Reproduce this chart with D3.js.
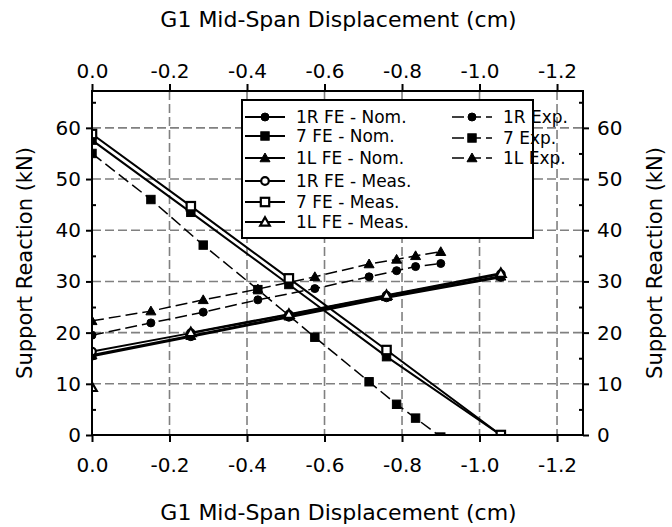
<!DOCTYPE html>
<html><head><meta charset="utf-8">
<script src="https://cdn.jsdelivr.net/npm/d3@7"></script>
<style>body{margin:0;background:#fff} text{font-family:"DejaVu Sans",sans-serif;fill:#000}</style>
</head><body><svg id="c" width="672" height="527"></svg>
<script>
// ---- data ----
const feX = [0, -0.255, -0.508, -0.76, -1.055];
const fe1RNom = [15.4, 19.2, 23.0, 26.8, 30.8];
const fe7Nom = [57.6, 43.5, 29.4, 15.3, 0];
const fe1LNom = [15.6, 19.4, 23.2, 27.0, 31.0];
const fe1RMeas = [16.3, 19.9, 23.5, 27.2, 31.4];
const fe7Meas = [58.8, 44.7, 30.6, 16.6, 0];
const meas1LX = [0, null, -0.255, -0.508, -0.76, -1.055];
const fe1LMeas = [9.3, null, 20.0, 23.6, 27.3, 31.6];
const expX = [0, -0.152, -0.287, -0.428, -0.575, -0.715, -0.786, -0.835, -0.90];
const exp1R = [19.5, 21.9, 24.0, 26.4, 28.6, 30.9, 32.1, 32.9, 33.5];
const exp7 = [55.0, 46.0, 37.1, 28.4, 19.1, 10.4, 6.0, 3.3, -0.4];
const exp1L = [22.3, 24.2, 26.4, 28.5, 30.9, 33.4, 34.3, 35.0, 35.8];
const xTicks = [0, -0.2, -0.4, -0.6, -0.8, -1.0, -1.2];
const yTicks = [0, 10, 20, 30, 40, 50, 60];
const yMinor = [5, 15, 25, 35, 45, 55, 65];
const xTitle = "G1 Mid-Span Displacement (cm)";
const yTitle = "Support Reaction (kN)";

const series = [
  {name: "1R FE - Nom.", x: feX, y: fe1RNom, m: "circle", open: false, dash: false, col: 0, row: 0},
  {name: "7 FE - Nom.", x: feX, y: fe7Nom, m: "square", open: false, dash: false, col: 0, row: 1},
  {name: "1L FE - Nom.", x: feX, y: fe1LNom, m: "triangle", open: false, dash: false, col: 0, row: 2},
  {name: "1R FE - Meas.", x: feX, y: fe1RMeas, m: "circle", open: true, dash: false, col: 0, row: 3},
  {name: "7 FE - Meas.", x: feX, y: fe7Meas, m: "square", open: true, dash: false, col: 0, row: 4},
  {name: "1L FE - Meas.", x: meas1LX, y: fe1LMeas, m: "triangle", open: true, dash: false, col: 0, row: 5},
  {name: "1R Exp.", x: expX, y: exp1R, m: "circle", open: false, dash: true, col: 1, row: 0},
  {name: "7 Exp.", x: expX, y: exp7, m: "square", open: false, dash: true, col: 1, row: 1},
  {name: "1L Exp.", x: expX, y: exp1L, m: "triangle", open: false, dash: true, col: 1, row: 2}
];

// ---- layout ----
const L = 92, R = 583, T = 91, B = 435;
const svg = d3.select("#c");
const x = d3.scaleLinear().domain([0, -1.267]).range([L, R]);
const y = d3.scaleLinear().domain([0, 67.2]).range([B, T]);
const fmt = d => d.toFixed(1);

svg.append("defs").append("clipPath").attr("id", "clip")
  .append("rect").attr("x", L).attr("y", T).attr("width", R - L).attr("height", B - T);

// grid
const grid = svg.append("g").attr("stroke", "#808080").attr("stroke-width", 1.6).attr("stroke-dasharray", "9,4");
grid.selectAll(".gx").data(xTicks.filter(d => d !== 0)).join("line")
  .attr("x1", d => x(d)).attr("x2", d => x(d)).attr("y1", T).attr("y2", B);
grid.selectAll(".gy").data(yTicks.filter(d => d !== 0)).join("line")
  .attr("x1", L).attr("x2", R).attr("y1", d => y(d)).attr("y2", d => y(d));

function marker(g, type, open, cx, cy) {
  let el;
  if (type === "circle") {
    el = g.append("circle").attr("cx", cx).attr("cy", cy).attr("r", open ? 3.8 : 4);
  } else if (type === "square") {
    const h = open ? 4.2 : 4.2;
    el = g.append("rect").attr("x", cx - h).attr("y", cy - h).attr("width", 2 * h).attr("height", 2 * h);
  } else {
    const h = open ? 4.8 : 5;
    el = g.append("path").attr("d", `M${cx},${cy - h}L${cx + h},${cy + h * 0.75}L${cx - h},${cy + h * 0.75}Z`);
  }
  el.attr("fill", open ? "#fff" : "#000").attr("stroke", "#000").attr("stroke-width", open ? 2.2 : 1);
}

const plot = svg.append("g").attr("clip-path", "url(#clip)");
const line = d3.line().defined(d => d[1] !== null).x(d => x(d[0])).y(d => y(d[1]));
series.forEach(s => {
  const pts = s.x.map((xv, i) => [xv, s.y[i]]);
  plot.append("path").datum(pts).attr("d", line).attr("fill", "none").attr("stroke", "#000")
    .attr("stroke-width", s.dash ? 1.5 : 2).attr("stroke-dasharray", s.dash ? "12,5" : null);
});
series.forEach(s => {
  const g = plot.append("g");
  s.x.forEach((xv, i) => { if (s.y[i] !== null) marker(g, s.m, s.open, x(xv), y(s.y[i])); });
});

// axes
const axStyle = g => {
  g.selectAll(".domain").remove();
  g.selectAll("line").attr("stroke", "#000").attr("stroke-width", 2);
  g.selectAll("text").style("font-family", '"DejaVu Sans",sans-serif').style("font-size", "20px").attr("fill", "#000");
};
svg.append("g").attr("transform", `translate(0,${B})`)
  .call(d3.axisBottom(x).tickValues(xTicks).tickFormat(fmt).tickSize(7).tickPadding(16)).call(axStyle);
svg.append("g").attr("transform", `translate(0,${T})`)
  .call(d3.axisTop(x).tickValues(xTicks).tickFormat(fmt).tickSize(7).tickPadding(6)).call(axStyle);
svg.append("g").attr("transform", `translate(${L},0)`)
  .call(d3.axisLeft(y).tickValues(yTicks).tickSize(6).tickPadding(5)).call(axStyle);
svg.append("g").attr("transform", `translate(${R},0)`)
  .call(d3.axisRight(y).tickValues(yTicks).tickSize(6).tickPadding(8)).call(axStyle);
svg.append("g").attr("transform", `translate(${L},0)`)
  .call(d3.axisRight(y).tickValues(yMinor).tickSize(4).tickFormat("")).call(axStyle);
svg.append("g").attr("transform", `translate(${R},0)`)
  .call(d3.axisLeft(y).tickValues(yMinor).tickSize(4).tickFormat("")).call(axStyle);
// frame
svg.append("rect").attr("x", L).attr("y", T).attr("width", R - L).attr("height", B - T)
  .attr("fill", "none").attr("stroke", "#000").attr("stroke-width", 2);

// titles
svg.append("text").attr("x", (L + R) / 2 + 1).attr("y", 27).attr("text-anchor", "middle").style("font-size", "22px").text(xTitle);
svg.append("text").attr("x", (L + R) / 2 + 1).attr("y", 520).attr("text-anchor", "middle").style("font-size", "22px").text(xTitle);
svg.append("text").attr("transform", `translate(32,${(T + B) / 2}) rotate(-90)`).attr("text-anchor", "middle").style("font-size", "21px").text(yTitle);
svg.append("text").attr("transform", `translate(662,${(T + B) / 2}) rotate(-90)`).attr("text-anchor", "middle").style("font-size", "21px").text(yTitle);

// legend
const lg = svg.append("g");
lg.append("rect").attr("x", 242).attr("y", 100).attr("width", 291).attr("height", 138)
  .attr("fill", "#fff").attr("stroke", "#000").attr("stroke-width", 2);
const rowY = [[117, 136, 158, 181, 202, 222], [117, 138, 158]];
const colX = [245, 452];
series.forEach(s => {
  const yy = rowY[s.col][s.row], x0 = colX[s.col];
  lg.append("line").attr("x1", x0).attr("x2", x0 + 40).attr("y1", yy).attr("y2", yy)
    .attr("stroke", "#000").attr("stroke-width", s.dash ? 1.5 : 2).attr("stroke-dasharray", s.dash ? "12,5" : null);
  marker(lg, s.m, s.open, x0 + 20, yy);
  lg.append("text").attr("x", x0 + 51).attr("y", yy).attr("dy", "0.36em").style("font-size", "17px").text(s.name);
});
</script></body></html>
